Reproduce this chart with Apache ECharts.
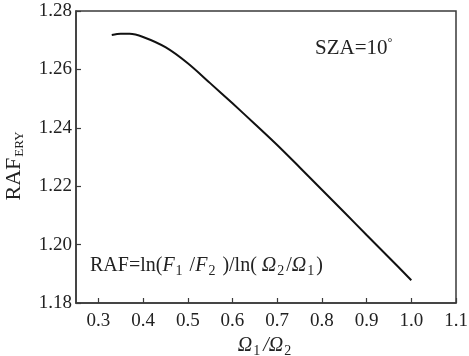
<!DOCTYPE html>
<html><head><meta charset="utf-8">
<script src="https://cdn.jsdelivr.net/npm/echarts@6/dist/echarts.min.js"></script>
<style>html,body{margin:0;padding:0;background:#fff}#c{width:469px;height:356px}</style>
</head><body><div id="c"></div>
<script>
const xValues = [0.33, 0.35, 0.37, 0.40, 0.45, 0.50, 0.55, 0.60, 0.65, 0.70, 0.75, 0.80, 0.85, 0.90, 0.95, 1.00];
const rafValues = [1.2718, 1.2722, 1.2722, 1.2711, 1.2676, 1.2621, 1.2553, 1.2484, 1.2413, 1.2341, 1.2265, 1.2188, 1.2111, 1.2033, 1.1956, 1.1878];
const xTicks = [0.3, 0.4, 0.5, 0.6, 0.7, 0.8, 0.9, 1.0, 1.1];
const yTicks = [1.18, 1.20, 1.22, 1.24, 1.26, 1.28];

const FONT = 'Liberation Serif';
const chart = echarts.init(document.getElementById('c'), null, {renderer: 'canvas'});
const axisCol = '#3a3a3a';
chart.setOption({
  animation: false,
  backgroundColor: '#fff',
  grid: {left: 76, right: 13, top: 11, bottom: 53, outerBoundsMode: 'none', containLabel: false, show: true, borderColor: axisCol, borderWidth: 1.5, backgroundColor: 'transparent'},
  xAxis: {
    type: 'value', min: 0.25, max: 1.1,
    name: '{i|Ω}{s|1}{n|/}{i|Ω}{s|2}', nameLocation: 'middle', nameGap: 31,
    nameTextStyle: {
      rich: {
        i: {fontFamily: FONT, fontStyle: 'italic', fontSize: 20, color: '#222'},
        n: {fontFamily: FONT, fontStyle: 'italic', fontSize: 20, color: '#222'},
        s: {fontFamily: FONT, fontSize: 14, color: '#222', padding: [10, 3, 0, 1]}
      }
    },
    axisLine: {lineStyle: {color: axisCol, width: 1.5}},
    axisTick: {inside: true, length: 5, lineStyle: {color: axisCol, width: 1.2}, customValues: xTicks},
    axisLabel: {customValues: xTicks, formatter: v => v.toFixed(1), fontFamily: FONT, fontSize: 19, color: '#222', margin: 9},
    splitLine: {show: false}
  },
  yAxis: {
    type: 'value', min: 1.18, max: 1.28, interval: 0.02,
    name: '{n|RAF}{s|ERY}', nameLocation: 'middle', nameGap: 50, nameRotate: 90,
    nameTextStyle: {
      rich: {
        n: {fontFamily: FONT, fontSize: 22, color: '#222'},
        s: {fontFamily: FONT, fontSize: 13, color: '#222', padding: [11, 18, 0, 1]}
      }
    },
    axisLine: {lineStyle: {color: axisCol, width: 1.5}},
    axisTick: {inside: true, length: 5, lineStyle: {color: axisCol, width: 1.2}, customValues: yTicks},
    axisLabel: {customValues: yTicks, formatter: v => v.toFixed(2), fontFamily: FONT, fontSize: 19, color: '#222', margin: 4},
    splitLine: {show: false}
  },
  series: [{
    type: 'line',
    data: xValues.map((x, i) => [x, rafValues[i]]),
    smooth: 0.3,
    showSymbol: false,
    lineStyle: {color: '#111', width: 2}
  }],
  graphic: [
    {
      type: 'text', left: 315, top: 37,
      style: {
        text: '{n|SZA=10}{d|°}',
        rich: {
          n: {fontFamily: FONT, fontSize: 21, fill: '#222'},
          d: {fontFamily: FONT, fontSize: 12, fill: '#222', padding: [0, 0, 10, 0]}
        }
      }
    },
    {
      type: 'text', left: 90, top: 256,
      style: {
        text: '{n|RAF=ln(}{i|F}{s|1}{n| /}{i|F}{s|2}{n| )/ln( }{i|Ω}{s|2}{n|/}{i|Ω}{s|1}{n|)}',
        rich: {
          n: {fontFamily: FONT, fontSize: 20, fill: '#222'},
          i: {fontFamily: FONT, fontStyle: 'italic', fontSize: 20, fill: '#222'},
          s: {fontFamily: FONT, fontSize: 14, fill: '#222', padding: [10, 2, 0, 1]}
        }
      }
    }
  ]
});
</script></body></html>
